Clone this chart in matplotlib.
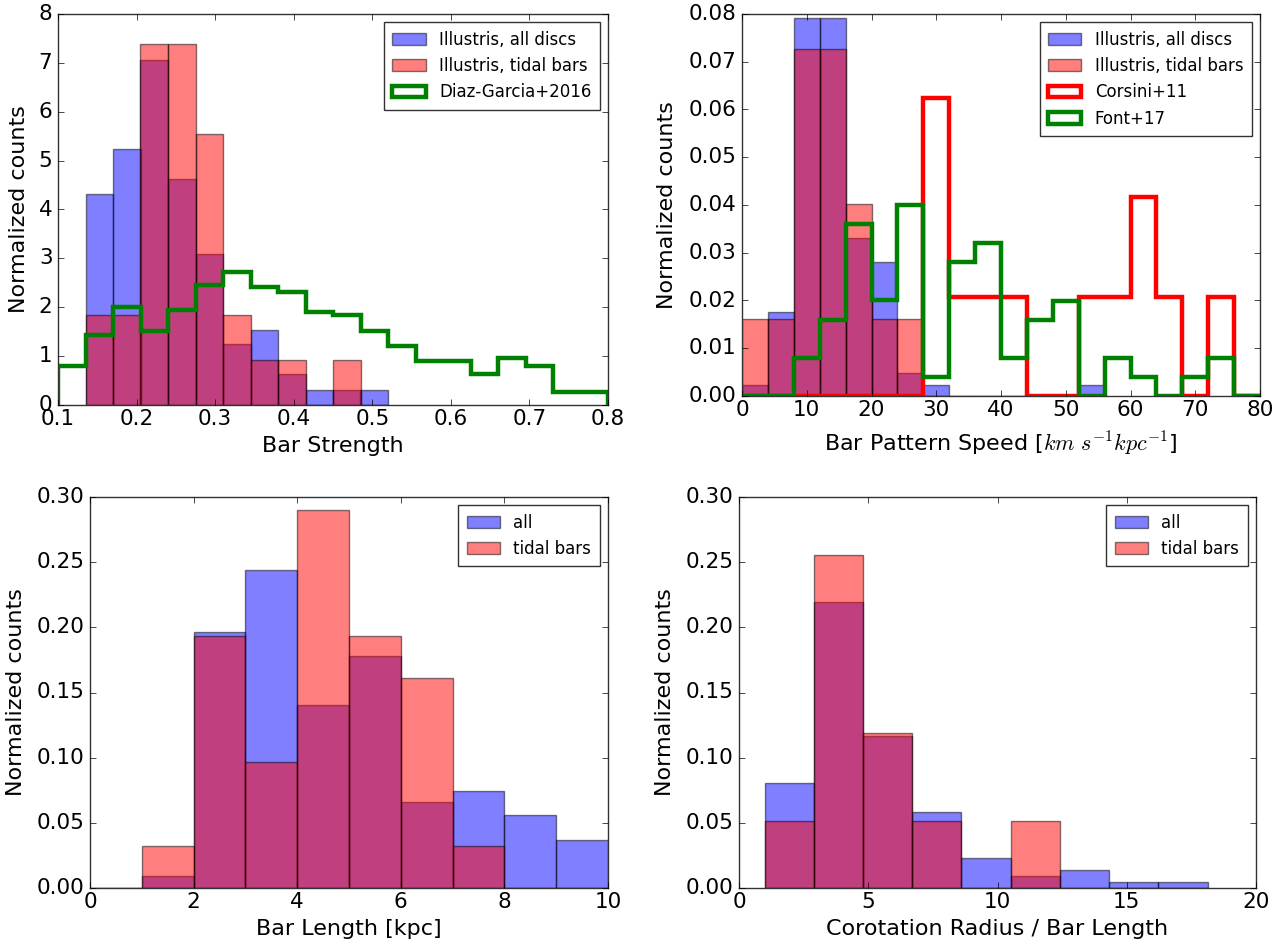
import numpy as np
import matplotlib
matplotlib.use("Agg")
import matplotlib.pyplot as plt
from matplotlib.ticker import FormatStrFormatter

# ---------------- data ----------------
# Panel 1: bar strength
strength_edges = [0.135, 0.170, 0.205, 0.240, 0.275, 0.310, 0.345, 0.380, 0.415, 0.450, 0.485, 0.520]
strength_all = [4.31, 5.23, 7.06, 4.62, 3.08, 1.24, 1.53, 0.63, 0.31, 0.31, 0.31]
strength_tidal = [1.85, 1.85, 7.39, 7.39, 5.55, 1.85, 0.93, 0.93, 0.0, 0.93, 0.0]
dg_edges = [0.100, 0.135, 0.170, 0.205, 0.240, 0.275, 0.310, 0.345, 0.380, 0.415, 0.450,
            0.485, 0.520, 0.555, 0.590, 0.625, 0.660, 0.695, 0.730, 0.765, 0.800]
dg_values = [0.80, 1.43, 2.00, 1.52, 1.94, 2.46, 2.73, 2.42, 2.31, 1.90,
             1.84, 1.52, 1.21, 0.91, 0.91, 0.64, 0.96, 0.80, 0.27, 0.27]

# Panel 2: bar pattern speed
speed_edges = [0, 4, 8, 12, 16, 20, 24, 28, 32, 36, 40, 44, 48, 52, 56]
speed_all = [0.0024, 0.0176, 0.0791, 0.0791, 0.0331, 0.0281, 0.0049, 0.0024,
             0.0, 0.0, 0.0, 0.0, 0.0, 0.0024]
speed_tidal = [0.0162, 0.0162, 0.0727, 0.0727, 0.0403, 0.0162, 0.0162, 0.0,
               0.0, 0.0, 0.0, 0.0, 0.0, 0.0]
obs_edges = [0, 4, 8, 12, 16, 20, 24, 28, 32, 36, 40, 44, 48, 52, 56, 60, 64, 68, 72, 76, 80]
corsini_values = [0, 0, 0, 0, 0, 0, 0, 0.0625, 0.0208, 0.0208, 0.0208, 0, 0, 0.0208,
                  0.0208, 0.0417, 0.0208, 0, 0.0208, 0]
font_values = [0, 0, 0.008, 0.016, 0.036, 0.020, 0.040, 0.004, 0.028, 0.032, 0.008,
               0.016, 0.020, 0, 0.008, 0.004, 0, 0.004, 0.008, 0]

# Panel 3: bar length
length_edges = [0, 1, 2, 3, 4, 5, 6, 7, 8, 9, 10]
length_all = [0.0, 0.0095, 0.1964, 0.2437, 0.1407, 0.1777, 0.0657, 0.0747, 0.0563, 0.0371]
length_tidal = [0.0, 0.0323, 0.1935, 0.0968, 0.2903, 0.1935, 0.1613, 0.0323, 0.0, 0.0]

# Panel 4: corotation radius / bar length
ratio_edges = [0.99, 2.894, 4.798, 6.702, 8.606, 10.51, 12.414, 14.318, 16.222, 18.126]
ratio_all = [0.0808, 0.2193, 0.1167, 0.0583, 0.0227, 0.0089, 0.0135, 0.0046, 0.0046]
ratio_tidal = [0.0514, 0.2553, 0.1190, 0.0514, 0.0, 0.0514, 0.0, 0.0, 0.0]

# ---------------- style ----------------
plt.style.use('classic')
plt.rcParams['font.family'] = ['DejaVu Sans']
plt.rcParams['mathtext.fontset'] = 'cm'
plt.rcParams['xtick.labelsize'] = 15.5
plt.rcParams['ytick.labelsize'] = 15.5
plt.rcParams['axes.labelsize'] = 16
plt.rcParams['xtick.major.size'] = 4
plt.rcParams['ytick.major.size'] = 4
plt.rcParams['xtick.major.pad'] = 3
plt.rcParams['ytick.major.pad'] = 4
plt.rcParams['axes.edgecolor'] = '#333333'

W, H = 1287, 947
fig = plt.figure(figsize=(W / 100, H / 100), dpi=100, facecolor='white')


def add_axes(l, r, t, b):
    return fig.add_axes([l / W, 1 - b / H, (r - l) / W, (b - t) / H])


def centers(edges):
    e = np.asarray(edges, dtype=float)
    return 0.5 * (e[:-1] + e[1:])


def filled(ax, edges, vals, color, label):
    ax.hist(centers(edges), bins=edges, weights=vals, color=color, alpha=0.5,
            edgecolor='k', linewidth=1, label=label)


def step(ax, edges, vals, color, label):
    ax.hist(centers(edges), bins=edges, weights=vals, histtype='step',
            color=color, linewidth=3.2, label=label)


leg_kw = dict(loc='upper right', fontsize=12, frameon=True, fancybox=False,
              handlelength=2.0, borderpad=0.5, labelspacing=0.5)

# Panel 1
ax1 = add_axes(58, 608, 14, 405)
filled(ax1, strength_edges, strength_all, 'b', 'Illustris, all discs')
filled(ax1, strength_edges, strength_tidal, 'r', 'Illustris, tidal bars')
step(ax1, dg_edges, dg_values, 'g', 'Diaz-Garcia+2016')
ax1.set_xlim(0.1, 0.8)
ax1.set_ylim(0, 8)
ax1.set_xlabel('Bar Strength')
ax1.set_ylabel('Normalized counts')
ax1.xaxis.set_label_coords(0.5, -0.080)
ax1.yaxis.set_label_coords(-0.052, 0.5)
ax1.legend(**leg_kw)

# Panel 2
ax2 = add_axes(742, 1260, 14, 396)
filled(ax2, speed_edges, speed_all, 'b', 'Illustris, all discs')
filled(ax2, speed_edges, speed_tidal, 'r', 'Illustris, tidal bars')
step(ax2, obs_edges, corsini_values, 'r', 'Corsini+11')
step(ax2, obs_edges, font_values, 'g', 'Font+17')
ax2.set_xlim(0, 80)
ax2.set_ylim(0, 0.08)
ax2.set_xlabel(r'Bar Pattern Speed [$km\ s^{-1} kpc^{-1}$]')
ax2.set_ylabel('Normalized counts')
ax2.yaxis.set_major_formatter(FormatStrFormatter('%.2f'))
ax2.xaxis.set_label_coords(0.5, -0.088)
ax2.yaxis.set_label_coords(-0.125, 0.5)
ax2.legend(**leg_kw)

# Panel 3
ax3 = add_axes(90, 608, 497, 888)
filled(ax3, length_edges, length_all, 'b', 'all')
filled(ax3, length_edges, length_tidal, 'r', 'tidal bars')
ax3.set_xlim(0, 10)
ax3.set_ylim(0, 0.30)
ax3.set_yticks([0, 0.05, 0.10, 0.15, 0.20, 0.25, 0.30])
ax3.yaxis.set_major_formatter(FormatStrFormatter('%.2f'))
ax3.set_xlabel('Bar Length [kpc]')
ax3.set_ylabel('Normalized counts')
ax3.xaxis.set_label_coords(0.5, -0.080)
ax3.yaxis.set_label_coords(-0.124, 0.5)
ax3.legend(**leg_kw)

# Panel 4
ax4 = add_axes(739, 1256, 497, 888)
filled(ax4, ratio_edges, ratio_all, 'b', 'all')
filled(ax4, ratio_edges, ratio_tidal, 'r', 'tidal bars')
ax4.set_xlim(0, 20)
ax4.set_ylim(0, 0.30)
ax4.set_yticks([0, 0.05, 0.10, 0.15, 0.20, 0.25, 0.30])
ax4.yaxis.set_major_formatter(FormatStrFormatter('%.2f'))
ax4.set_xlabel('Corotation Radius / Bar Length')
ax4.set_ylabel('Normalized counts')
ax4.xaxis.set_label_coords(0.5, -0.080)
ax4.yaxis.set_label_coords(-0.124, 0.5)
ax4.legend(**leg_kw)

fig.savefig('out.png', dpi=100, facecolor='white')
